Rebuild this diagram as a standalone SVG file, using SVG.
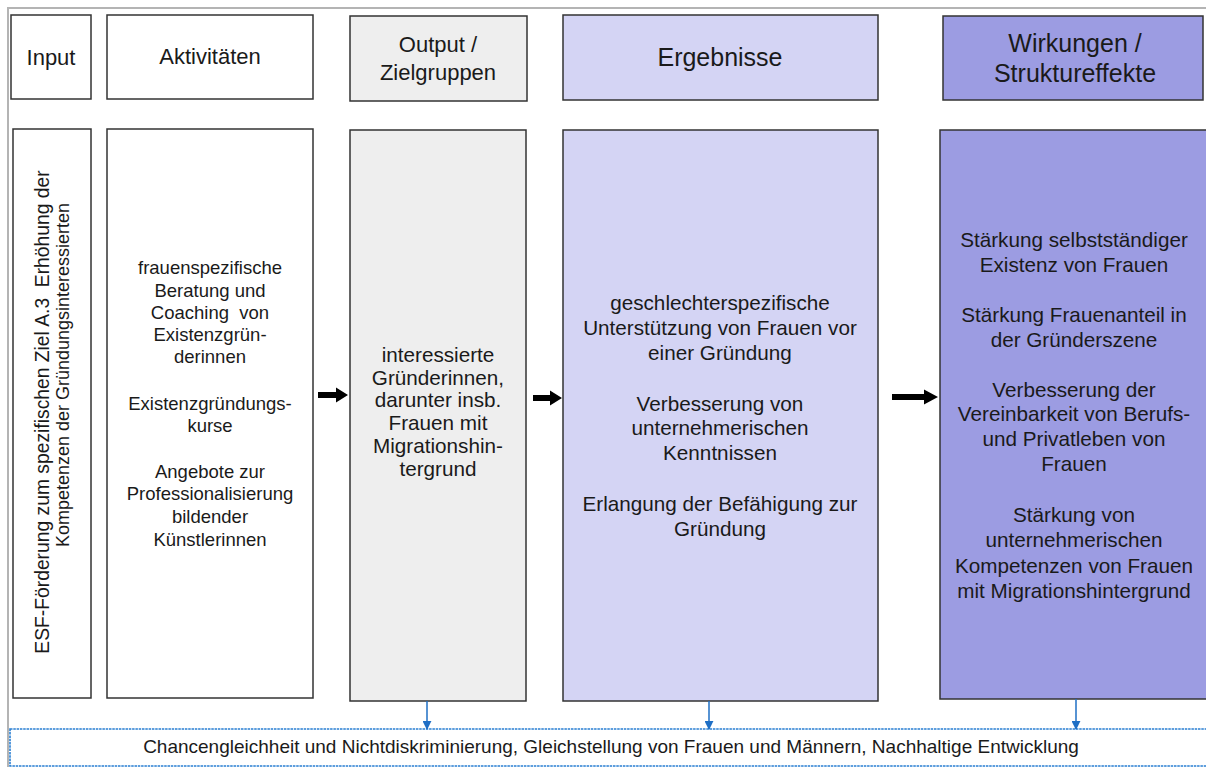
<svg xmlns="http://www.w3.org/2000/svg" width="1206" height="767" viewBox="0 0 1206 767">
<defs>
<style>
text{font-family:"Liberation Sans",Arial,sans-serif;fill:#1a1a1a;text-anchor:middle}
.box{stroke:#333;stroke-width:1.5}
.w{fill:#fff}
.g{fill:#eeeeee}
.l{fill:#d4d4f4}
.d{fill:#9c9ce2}
.h22{font-size:22px}
.h26{font-size:25px}
.b18{font-size:18.5px}
.b21{font-size:20.7px}
.blk{fill:#000}
.bl{stroke:#1f6fc5;stroke-width:1.5;fill:none}
</style>
<marker id="bh" viewBox="0 0 10 10" refX="9" refY="5" markerWidth="9" markerHeight="9" markerUnits="userSpaceOnUse" orient="auto"><path d="M0,0 L10,5 L0,10 Z" fill="#1f6fc5"/></marker>
</defs>
<rect width="1206" height="767" fill="#fff"/>
<path d="M8,767 V8 H1206" fill="none" stroke="#b4b4b4" stroke-width="2"/>

<g id="input-header"><rect class="box w" x="11" y="15" width="80" height="84"/><text class="h22" x="51" y="65">Input</text></g>
<g id="aktivitaeten-header"><rect class="box w" x="107" y="15" width="206" height="84"/><text class="h22" x="210" y="64">Aktivitäten</text></g>
<g id="output-header"><rect class="box g" x="350" y="16" width="177" height="85"/><text class="h22" x="438" y="52">Output /</text><text class="h22" x="438" y="80">Zielgruppen</text></g>
<g id="ergebnisse-header"><rect class="box l" x="563" y="15" width="315" height="85"/><text class="h26" x="720" y="66">Ergebnisse</text></g>
<g id="wirkungen-header"><rect class="box d" x="943" y="16" width="260" height="84"/><text class="h26" x="1075" y="52">Wirkungen /</text><text class="h26" x="1075" y="82">Struktureffekte</text></g>

<g id="input-body"><rect class="box w" x="13" y="129" width="78" height="569"/>
<text style="font-size:19.3px" transform="translate(48.5,412) rotate(-90)">ESF-Förderung zum spezifischen Ziel A.3&#160; Erhöhung der</text>
<text style="font-size:18px" transform="translate(68.5,375) rotate(-90)">Kompetenzen der Gründungsinteressierten</text></g>

<g id="aktivitaeten-body"><rect class="box w" x="107" y="129" width="206" height="569"/>
<text class="b18"><tspan x="210" y="274">frauenspezifische</tspan><tspan x="210" y="297">Beratung und</tspan><tspan x="210" y="319">Coaching&#160; von</tspan><tspan x="210" y="341">Existenzgrün-</tspan><tspan x="210" y="363">derinnen</tspan><tspan x="210" y="410">Existenzgründungs-</tspan><tspan x="210" y="432">kurse</tspan><tspan x="210" y="478">Angebote zur</tspan><tspan x="210" y="500">Professionalisierung</tspan><tspan x="210" y="523">bildender</tspan><tspan x="210" y="546">Künstlerinnen</tspan></text></g>

<g id="output-body"><rect class="box g" x="350" y="130" width="176" height="571"/>
<text class="b21"><tspan x="438" y="362">interessierte</tspan><tspan x="438" y="385">Gründerinnen,</tspan><tspan x="438" y="407">darunter insb.</tspan><tspan x="438" y="430">Frauen mit</tspan><tspan x="438" y="453">Migrationshin-</tspan><tspan x="438" y="476">tergrund</tspan></text></g>

<g id="ergebnisse-body"><rect class="box l" x="563" y="130" width="315" height="571"/>
<text class="b21"><tspan x="720" y="310">geschlechterspezifische</tspan><tspan x="720" y="335">Unterstützung von Frauen vor</tspan><tspan x="720" y="360">einer Gründung</tspan><tspan x="720" y="411">Verbesserung von</tspan><tspan x="720" y="435">unternehmerischen</tspan><tspan x="720" y="460">Kenntnissen</tspan><tspan x="720" y="511">Erlangung der Befähigung zur</tspan><tspan x="720" y="536">Gründung</tspan></text></g>

<g id="wirkungen-body"><rect class="box d" x="940" y="130" width="270" height="569"/>
<text class="b21"><tspan x="1074" y="247">Stärkung selbstständiger</tspan><tspan x="1074" y="272">Existenz von Frauen</tspan><tspan x="1074" y="322">Stärkung Frauenanteil in</tspan><tspan x="1074" y="347">der Gründerszene</tspan><tspan x="1074" y="397">Verbesserung der</tspan><tspan x="1074" y="421">Vereinbarkeit von Berufs-</tspan><tspan x="1074" y="446">und Privatleben von</tspan><tspan x="1074" y="471">Frauen</tspan><tspan x="1074" y="522">Stärkung von</tspan><tspan x="1074" y="547">unternehmerischen</tspan><tspan x="1074" y="573">Kompetenzen von Frauen</tspan><tspan x="1074" y="598">mit Migrationshintergrund</tspan></text></g>

<g id="querschnitt"><rect x="10" y="729" width="1200" height="37" fill="#fff" stroke="#2a7fd2" stroke-width="1.6" stroke-dasharray="2.5 0.8"/>
<text style="font-size:19px" x="611" y="753">Chancengleichheit und Nichtdiskriminierung, Gleichstellung von Frauen und Männern, Nachhaltige Entwicklung</text></g>

<g id="connectors">
<path class="blk" d="M318,392 H336 V387.5 L348,395 L336,402.5 V398 H318 Z"/>
<path class="blk" d="M533,395 H550 V390.5 L562,398 L550,405.5 V401 H533 Z"/>
<path class="blk" d="M892,394 H924 V389.5 L938,397 L924,404.5 V400 H892 Z"/>
<line class="bl" x1="427" y1="701" x2="427" y2="729" marker-end="url(#bh)"/>
<line class="bl" x1="709" y1="701" x2="709" y2="729" marker-end="url(#bh)"/>
<line class="bl" x1="1076" y1="699" x2="1076" y2="729" marker-end="url(#bh)"/>
</g>
</svg>
